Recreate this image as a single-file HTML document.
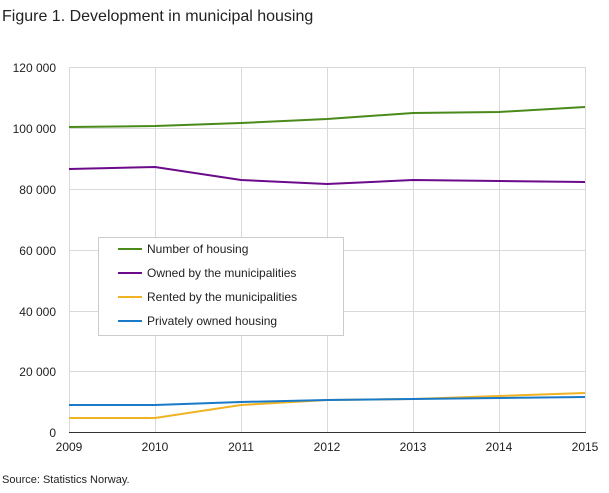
<!DOCTYPE html>
<html><head><style>body{margin:0;background:#fff;width:609px;height:488px;overflow:hidden;font-family:"Liberation Sans",sans-serif}</style></head>
<body>
<svg width="609" height="488" xmlns="http://www.w3.org/2000/svg" font-family="Liberation Sans, sans-serif">
<text x="2" y="21" font-size="16" fill="#222">Figure 1. Development in municipal housing</text>
<g stroke="#d9d9d9" stroke-width="1">
<line x1="69" y1="67.5" x2="586" y2="67.5"/><line x1="69" y1="128.5" x2="586" y2="128.5"/><line x1="69" y1="189.5" x2="586" y2="189.5"/><line x1="69" y1="250.5" x2="586" y2="250.5"/><line x1="69" y1="311.5" x2="586" y2="311.5"/><line x1="69" y1="371.5" x2="586" y2="371.5"/>
<line x1="69.5" y1="67" x2="69.5" y2="432"/><line x1="155.5" y1="67" x2="155.5" y2="432"/><line x1="241.5" y1="67" x2="241.5" y2="432"/><line x1="327.5" y1="67" x2="327.5" y2="432"/><line x1="413.5" y1="67" x2="413.5" y2="432"/><line x1="499.5" y1="67" x2="499.5" y2="432"/><line x1="585.5" y1="67" x2="585.5" y2="432"/>
</g>
<line x1="69" y1="432.5" x2="586" y2="432.5" stroke="#333"/>
<g font-size="12" fill="#222" text-anchor="end">
<text x="56" y="72">120 000</text><text x="56" y="133">100 000</text><text x="56" y="194">80 000</text><text x="56" y="255">60 000</text><text x="56" y="316">40 000</text><text x="56" y="376">20 000</text><text x="56" y="437">0</text>
</g>
<g font-size="12" fill="#222" text-anchor="middle">
<text x="69" y="451">2009</text><text x="155" y="451">2010</text><text x="241" y="451">2011</text><text x="327" y="451">2012</text><text x="413" y="451">2013</text><text x="499" y="451">2014</text><text x="585" y="451">2015</text>
</g>
<g fill="none" stroke-width="2">
<polyline stroke="#4a8a1a" points="69,127 155,126 241,123 327,119 413,113 499,112 585,107"/>
<polyline stroke="#6b0a8a" points="69,169 155,167 241,180 327,184 413,180 499,181 585,182"/>
<polyline stroke="#f0b323" points="69,418 155,418 241,405 327,400 413,399 499,396 585,393"/>
<polyline stroke="#1a7ac8" points="69,405 155,405 241,402 327,400 413,399 499,398 585,397"/>
</g>
<rect x="98.5" y="237.5" width="245" height="98" fill="#fff" stroke="#ccc"/>
<g stroke-width="2"><line x1="118" y1="249" x2="142" y2="249" stroke="#4a8a1a"/><line x1="118" y1="273" x2="142" y2="273" stroke="#6b0a8a"/><line x1="118" y1="297" x2="142" y2="297" stroke="#f0b323"/><line x1="118" y1="321" x2="142" y2="321" stroke="#1a7ac8"/></g>
<g font-size="12" fill="#222"><text x="147" y="253">Number of housing</text><text x="147" y="277">Owned by the municipalities</text><text x="147" y="301">Rented by the municipalities</text><text x="147" y="325">Privately owned housing</text></g>
<text x="2" y="483" font-size="11" fill="#222">Source: Statistics Norway.</text>
</svg>
</body></html>
